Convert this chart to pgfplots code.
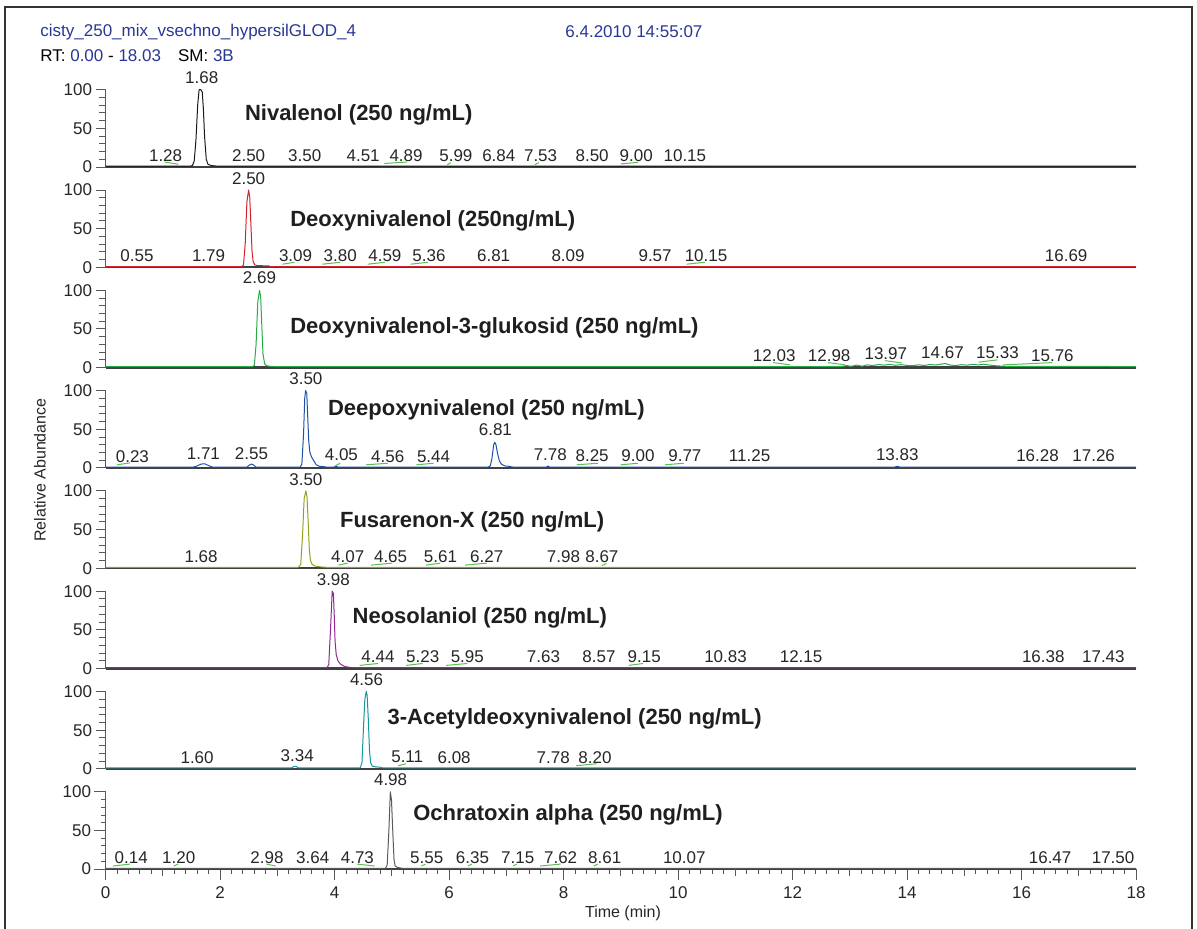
\documentclass[border=0pt]{standalone}
\usepackage{fontspec}
\setmainfont{Liberation Sans}
\usepackage{pgfplots}
\pgfplotsset{compat=1.18}
\definecolor{hdr}{RGB}{40,55,150}
\definecolor{ann}{RGB}{90,190,80}
\definecolor{c1}{RGB}{25,25,25}
\definecolor{c2}{RGB}{210,35,42}
\definecolor{c3}{RGB}{40,170,75}
\definecolor{c4}{RGB}{30,80,170}
\definecolor{c5}{RGB}{150,160,30}
\definecolor{c6}{RGB}{145,40,145}
\definecolor{c7}{RGB}{20,150,155}
\definecolor{c8}{RGB}{90,90,90}
\newcommand\pp[2]{({#1*0.5pt},{-#2*0.5pt})}
\newcommand\lbl{\fontsize{8.5}{10}\selectfont}
\newcommand\ttl{\fontsize{11}{13}\selectfont\bfseries}
\tikzset{
  lb/.style={font=\lbl, text=black!85, inner sep=0pt},
  tt/.style={font=\ttl, text=black!88, inner sep=0pt, anchor=west},
}
\pgfplotsset{
 panel/.style={
  scale only axis, width=515.25pt, height=38.65pt,
  xmin=0, xmax=18, ymin=0, ymax=100,
  axis x line=bottom, axis y line=left,
  x axis line style={-, line width=1.1pt, draw=black!75},
  y axis line style={-, line width=0.45pt, draw=black!65},
  xtick=\empty,
  ytick={0,50,100}, minor ytick={10,20,30,40,60,70,80,90},
  tick align=outside,
  major tick length=5pt, minor tick length=3.2pt,
  every tick/.style={draw=black!65, line width=0.45pt},
  yticklabel style={font=\lbl, inner sep=1.5pt, text=black!85},
  /pgf/number format/assume math mode=true,
  clip=false,
  every axis plot/.append style={line width=0.5pt, line join=round},
 },
 an/.style={color=ann, line width=0.5pt},
}
\begin{document}
\begin{tikzpicture}
\path[use as bounding box] \pp{0}{0} rectangle \pp{1197}{929};
\draw[line width=0.6pt, black!80] \pp{5}{929} -- \pp{5}{7} -- \pp{1192}{7} -- \pp{1192}{929};
\node[anchor=west, inner sep=0pt, font=\lbl, text=hdr] at \pp{40}{32} {cisty\_250\_mix\_vsechno\_hypersilGLOD\_4};
\node[anchor=west, inner sep=0pt, font=\lbl, text=hdr] at \pp{565}{32} {6.4.2010 14:55:07};
\node[anchor=west, inner sep=0pt, font=\lbl] at \pp{40}{56} {RT: \textcolor{hdr}{0.00} - \textcolor{hdr}{18.03}\quad SM: \textcolor{hdr}{3B}};
\node[rotate=90, inner sep=0pt, font=\fontsize{8}{9}\selectfont, text=black!85] at \pp{40}{470} {Relative Abundance};
\node[inner sep=0pt, font=\fontsize{8}{9}\selectfont, text=black!85] at \pp{623}{913} {Time (min)};

% ---------- Panel 1
\begin{axis}[panel, at={(52.75pt,-83.5pt)}, anchor=south west]
\addplot[color=c1] coordinates {(0,1)(1.48,1)(1.52,2)(1.55,8)(1.58,35)(1.61,80)(1.635,100)(1.665,100)(1.69,97)(1.71,75)(1.73,40)(1.76,10)(1.79,3.5)(1.84,2)(1.92,1.3)(1.97,1)(18,1)};
\addplot[an] coordinates {(1.03,6.5)(1.27,3.5)};
\addplot[an] coordinates {(4.87,4.5)(5.27,6.5)};
\addplot[an] coordinates {(5.97,3)(6.03,5.5)};
\addplot[an] coordinates {(7.50,3)(7.57,5.5)};
\addplot[an] coordinates {(9.00,4)(9.30,6)};
\node[lb] at (axis cs:1.68,115) {1.68};
\node[lb] at (axis cs:1.05,15) {1.28};
\node[lb] at (axis cs:2.50,15) {2.50};
\node[lb] at (axis cs:3.48,15) {3.50};
\node[lb] at (axis cs:4.50,15) {4.51};
\node[lb] at (axis cs:5.25,15) {4.89};
\node[lb] at (axis cs:6.12,15) {5.99};
\node[lb] at (axis cs:6.87,15) {6.84};
\node[lb] at (axis cs:7.60,15) {7.53};
\node[lb] at (axis cs:8.50,15) {8.50};
\node[lb] at (axis cs:9.27,15) {9.00};
\node[lb] at (axis cs:10.12,15) {10.15};
\node[tt] at (axis cs:2.43,68) {Nivalenol (250 ng/mL)};
\end{axis}

% ---------- Panel 2
\begin{axis}[panel, at={(52.75pt,-133.65pt)}, anchor=south west]
\addplot[color=c2] coordinates {(0,1)(2.38,1)(2.41,3)(2.44,30)(2.47,85)(2.50,100)(2.52,90)(2.54,55)(2.56,20)(2.58,7)(2.61,3)(2.66,2.2)(2.75,2)(2.85,1.8)(2.88,1)(18,1)};
\addplot[an] coordinates {(3.09,4)(3.30,6.5)};
\addplot[an] coordinates {(3.79,4)(4.10,6.5)};
\addplot[an] coordinates {(4.58,4)(4.88,6.5)};
\addplot[an] coordinates {(5.33,4)(5.63,6.5)};
\addplot[an] coordinates {(10.15,4)(10.47,6.5)};
\node[lb] at (axis cs:2.50,115) {2.50};
\node[lb] at (axis cs:0.55,15) {0.55};
\node[lb] at (axis cs:1.80,15) {1.79};
\node[lb] at (axis cs:3.32,15) {3.09};
\node[lb] at (axis cs:4.10,15) {3.80};
\node[lb] at (axis cs:4.88,15) {4.59};
\node[lb] at (axis cs:5.65,15) {5.36};
\node[lb] at (axis cs:6.78,15) {6.81};
\node[lb] at (axis cs:8.08,15) {8.09};
\node[lb] at (axis cs:9.60,15) {9.57};
\node[lb] at (axis cs:10.49,15) {10.15};
\node[lb] at (axis cs:16.78,15) {16.69};
\node[tt] at (axis cs:3.22,60.5) {Deoxynivalenol (250ng/mL)};
\end{axis}

% ---------- Panel 3
\begin{axis}[panel, at={(52.75pt,-183.8pt)}, anchor=south west]
\addplot[color=c3] coordinates {(0,1.4)(2.57,1.4)(2.60,3)(2.63,30)(2.66,85)(2.69,100)(2.71,92)(2.73,55)(2.75,18)(2.78,5)(2.81,2.5)(2.87,1.7)(2.93,1.4)
 (12.85,1.4)(12.95,2.6)(13.02,1.6)(13.12,3.2)(13.22,1.8)(13.30,3.6)(13.40,2.6)(13.50,4.0)(13.60,3.2)(13.70,4.2)(13.80,3.0)(13.90,3.8)(14.00,2.8)(14.10,2.4)(14.20,3.6)(14.30,2.8)(14.40,4.0)(14.50,3.4)(14.60,4.6)(14.67,5.2)(14.75,3.4)(14.85,2.6)(14.95,3.8)(15.05,3.2)(15.15,4.2)(15.25,3.4)(15.33,4.4)(15.45,3.2)(15.55,2.4)(15.68,1.8)(15.85,1.5)(18,1.4)};
\addplot[an] coordinates {(11.66,6.5)(11.96,3.5)};
\addplot[an] coordinates {(12.62,6.5)(12.92,3.5)};
\addplot[an] coordinates {(13.62,9)(13.91,6)};
\addplot[an] coordinates {(15.25,7)(15.58,10)};
\addplot[an] coordinates {(15.68,3.5)(16.54,6.5)};
\node[lb] at (axis cs:2.69,116) {2.69};
\node[lb] at (axis cs:11.68,15) {12.03};
\node[lb] at (axis cs:12.64,15.5) {12.98};
\node[lb] at (axis cs:13.63,18) {13.97};
\node[lb] at (axis cs:14.62,19.5) {14.67};
\node[lb] at (axis cs:15.58,19) {15.33};
\node[lb] at (axis cs:16.54,15) {15.76};
\node[tt] at (axis cs:3.22,51.7) {Deoxynivalenol-3-glukosid (250 ng/mL)};
\end{axis}

% ---------- Panel 4
\begin{axis}[panel, at={(52.75pt,-233.95pt)}, anchor=south west]
\addplot[color=c4] coordinates {(0,1)(1.53,1)(1.60,2.5)(1.67,5)(1.74,5.2)(1.80,3)(1.87,1)
 (2.47,1)(2.51,3.5)(2.55,5)(2.59,3.5)(2.63,1)
 (3.40,1)(3.43,5)(3.46,45)(3.48,90)(3.495,100)(3.515,97)(3.53,70)(3.55,35)(3.57,20)(3.60,14)(3.64,9)(3.68,4)(3.74,2)(3.82,1.5)(3.86,1)
 (3.99,1)(4.02,2.5)(4.06,1)
 (6.68,1)(6.72,2.5)(6.75,12)(6.78,30)(6.80,33)(6.82,30)(6.85,18)(6.88,9)(6.92,4.5)(6.98,2.5)(7.05,2)(7.12,1)
 (7.70,1)(7.73,2.5)(7.76,1)
 (13.78,1)(13.83,2)(13.88,1)(18,1)};
\addplot[an] coordinates {(0.20,4)(0.43,6.5)};
\addplot[an] coordinates {(4.02,3)(4.10,6)};
\addplot[an] coordinates {(4.55,4)(4.93,6)};
\addplot[an] coordinates {(5.43,4)(5.73,6)};
\addplot[an] coordinates {(8.23,4)(8.60,6)};
\addplot[an] coordinates {(9.00,4)(9.30,6)};
\addplot[an] coordinates {(9.77,4)(10.10,6)};
\node[lb] at (axis cs:3.50,116) {3.50};
\node[lb] at (axis cs:0.47,15) {0.23};
\node[lb] at (axis cs:1.71,19) {1.71};
\node[lb] at (axis cs:2.55,19) {2.55};
\node[lb] at (axis cs:4.12,17) {4.05};
\node[lb] at (axis cs:4.93,15) {4.56};
\node[lb] at (axis cs:5.73,15) {5.44};
\node[lb] at (axis cs:6.81,49) {6.81};
\node[lb] at (axis cs:7.77,17) {7.78};
\node[lb] at (axis cs:8.50,16) {8.25};
\node[lb] at (axis cs:9.30,16) {9.00};
\node[lb] at (axis cs:10.12,16) {9.77};
\node[lb] at (axis cs:11.25,16) {11.25};
\node[lb] at (axis cs:13.83,17) {13.83};
\node[lb] at (axis cs:16.28,16) {16.28};
\node[lb] at (axis cs:17.26,16) {17.26};
\node[tt] at (axis cs:3.88,75) {Deepoxynivalenol (250 ng/mL)};
\end{axis}

% ---------- Panel 5
\begin{axis}[panel, at={(52.75pt,-284.1pt)}, anchor=south west]
\addplot[color=c5] coordinates {(0,1.2)(3.37,1.2)(3.41,5)(3.44,40)(3.47,90)(3.50,100)(3.52,92)(3.54,60)(3.56,25)(3.58,10)(3.61,5)(3.66,2.8)(3.73,2)(3.80,1.4)(3.85,1.2)(18,1.2)};
\addplot[an] coordinates {(4.07,4)(4.23,6.5)};
\addplot[an] coordinates {(4.64,4)(5.00,6.5)};
\addplot[an] coordinates {(5.60,4)(5.85,6.5)};
\addplot[an] coordinates {(6.28,4)(6.66,6.5)};
\addplot[an] coordinates {(8.67,3.5)(8.75,6)};
\node[lb] at (axis cs:3.50,115) {3.50};
\node[lb] at (axis cs:1.67,15) {1.68};
\node[lb] at (axis cs:4.23,15) {4.07};
\node[lb] at (axis cs:4.98,15) {4.65};
\node[lb] at (axis cs:5.85,15) {5.61};
\node[lb] at (axis cs:6.66,15) {6.27};
\node[lb] at (axis cs:8.00,15) {7.98};
\node[lb] at (axis cs:8.67,15) {8.67};
\node[tt] at (axis cs:4.09,60) {Fusarenon-X (250 ng/mL)};
\end{axis}

% ---------- Panel 6
\begin{axis}[panel, at={(52.75pt,-334.25pt)}, anchor=south west]
\addplot[color=c6] coordinates {(0,1.2)(3.87,1.2)(3.90,5)(3.93,50)(3.96,100)(3.98,97)(3.995,70)(4.01,35)(4.03,18)(4.06,10)(4.10,6)(4.15,3.5)(4.22,2)(4.30,1.2)(18,1.2)};
\addplot[an] coordinates {(4.44,4)(4.76,6.5)};
\addplot[an] coordinates {(5.25,4)(5.54,6.5)};
\addplot[an] coordinates {(5.95,4)(6.32,6.5)};
\addplot[an] coordinates {(9.14,4)(9.39,6.5)};
\node[lb] at (axis cs:3.98,115) {3.98};
\node[lb] at (axis cs:4.76,15) {4.44};
\node[lb] at (axis cs:5.54,15) {5.23};
\node[lb] at (axis cs:6.32,15) {5.95};
\node[lb] at (axis cs:7.65,15) {7.63};
\node[lb] at (axis cs:8.62,15) {8.57};
\node[lb] at (axis cs:9.41,15) {9.15};
\node[lb] at (axis cs:10.83,15) {10.83};
\node[lb] at (axis cs:12.15,15) {12.15};
\node[lb] at (axis cs:16.38,15) {16.38};
\node[lb] at (axis cs:17.43,15) {17.43};
\node[tt] at (axis cs:4.31,65) {Neosolaniol (250 ng/mL)};
\end{axis}

% ---------- Panel 7
\begin{axis}[panel, at={(52.75pt,-384.4pt)}, anchor=south west]
\addplot[color=c7] coordinates {(0,1.2)(3.25,1.2)(3.29,3)(3.33,3)(3.37,1.2)(4.45,1.2)(4.48,8)(4.51,60)(4.53,90)(4.555,100)(4.57,95)(4.59,65)(4.61,25)(4.63,8)(4.66,3.5)(4.72,2.5)(4.80,2)(4.84,1.2)(18,1.2)};
\addplot[an] coordinates {(5.11,4)(5.25,6.5)};
\addplot[an] coordinates {(8.22,4)(8.58,6.5)};
\node[lb] at (axis cs:4.56,115) {4.56};
\node[lb] at (axis cs:1.60,15) {1.60};
\node[lb] at (axis cs:3.35,17) {3.34};
\node[lb] at (axis cs:5.27,15) {5.11};
\node[lb] at (axis cs:6.09,15) {6.08};
\node[lb] at (axis cs:7.82,15) {7.78};
\node[lb] at (axis cs:8.55,15) {8.20};
\node[tt] at (axis cs:4.92,65) {3-Acetyldeoxynivalenol (250 ng/mL)};
\end{axis}

% ---------- Panel 8
\begin{axis}[panel, at={(52.75pt,-434.55pt)}, anchor=south west,
  xtick={0,2,...,18}, minor x tick num=9, minor tick length=2.3pt,
  extra x ticks={1,3,...,17}, extra x tick labels={,,,,,,,,},
  extra x tick style={major tick length=3.4pt},
  major tick length=5.5pt,
  xticklabel style={font=\lbl, inner sep=3pt, text=black!85}]
\addplot[color=c8] coordinates {(0,1)(4.89,1)(4.92,5)(4.95,50)(4.975,100)(4.995,90)(5.02,45)(5.04,12)(5.06,4)(5.10,2.2)(5.15,1.5)(5.19,1)(18,1)};
\addplot[an] coordinates {(0.13,4)(0.43,6.5)};
\addplot[an] coordinates {(1.19,4)(1.27,6.5)};
\addplot[an] coordinates {(2.81,6.5)(2.97,4)};
\addplot[an] coordinates {(4.39,6.5)(4.70,4)};
\addplot[an] coordinates {(5.52,4)(5.59,6.5)};
\addplot[an] coordinates {(6.33,4)(6.40,6.5)};
\addplot[an] coordinates {(7.12,4)(7.18,6.5)};
\addplot[an] coordinates {(7.59,4)(7.95,6.5)};
\addplot[an] coordinates {(8.53,4)(8.60,6.5)};
\node[lb] at (axis cs:4.98,116) {4.98};
\node[lb] at (axis cs:0.45,15) {0.14};
\node[lb] at (axis cs:1.28,15) {1.20};
\node[lb] at (axis cs:2.82,15) {2.98};
\node[lb] at (axis cs:3.62,15) {3.64};
\node[lb] at (axis cs:4.40,15) {4.73};
\node[lb] at (axis cs:5.61,15) {5.55};
\node[lb] at (axis cs:6.41,15) {6.35};
\node[lb] at (axis cs:7.20,15) {7.15};
\node[lb] at (axis cs:7.95,15) {7.62};
\node[lb] at (axis cs:8.72,15) {8.61};
\node[lb] at (axis cs:10.11,15) {10.07};
\node[lb] at (axis cs:16.50,15) {16.47};
\node[lb] at (axis cs:17.60,15) {17.50};
\node[tt] at (axis cs:5.37,70.8) {Ochratoxin alpha (250 ng/mL)};
\end{axis}
\end{tikzpicture}
\end{document}
